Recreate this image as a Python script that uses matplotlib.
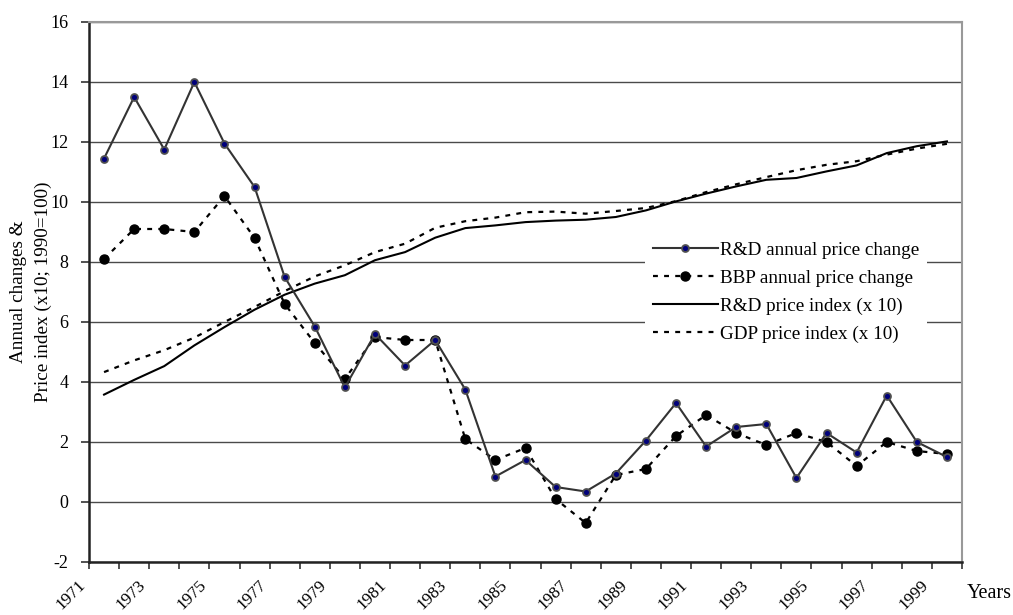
import numpy as np
import matplotlib.pyplot as plt
from matplotlib.transforms import ScaledTranslation

plt.rcParams['font.family'] = ['Liberation Serif', 'DejaVu Serif']

years = list(range(1971, 2000))

# annual price changes (%)
rd_change = [11.45, 13.5, 11.75, 14.0, 11.95, 10.5, 7.5, 5.85, 3.82, 5.6,
             4.55, 5.4, 3.75, 0.85, 1.4, 0.5, 0.35, 0.95, 2.05, 3.3,
             1.85, 2.5, 2.6, 0.8, 2.3, 1.65, 3.55, 2.0, 1.5]
bbp_change = [8.1, 9.1, 9.1, 9.0, 10.2, 8.8, 6.6, 5.3, 4.1, 5.5,
              5.4, 5.4, 2.1, 1.4, 1.8, 0.1, -0.7, 0.9, 1.1, 2.2,
              2.9, 2.3, 1.9, 2.3, 2.0, 1.2, 2.0, 1.7, 1.6]

# price indices (x 10; 1990=100)
rd_index = [3.58, 4.07, 4.53, 5.22, 5.83, 6.41, 6.91, 7.28, 7.56, 8.06,
            8.33, 8.81, 9.13, 9.22, 9.33, 9.38, 9.41, 9.5, 9.72, 10.02,
            10.28, 10.52, 10.74, 10.8, 11.02, 11.22, 11.63, 11.86, 12.02]
gdp_index = [4.33, 4.72, 5.06, 5.48, 6.0, 6.5, 7.03, 7.52, 7.89, 8.33,
             8.61, 9.14, 9.36, 9.48, 9.66, 9.68, 9.61, 9.7, 9.8, 10.03,
             10.33, 10.59, 10.83, 11.06, 11.24, 11.36, 11.58, 11.78, 11.94]

x = np.arange(len(years)) + 0.5

fig = plt.figure(figsize=(10.13, 6.15), dpi=100)
ax = fig.add_axes([89/1013, 1 - 562/615, 873/1013, 540/615])

ax.plot(x, rd_change, color='#333333', lw=1.5, marker='o', ms=5,
        mfc='#00007a', mec='#505050', mew=1.3, label='R&D annual price change', zorder=4)
ax.plot(x, bbp_change, color='black', lw=1.6, ls=(0, (2.2, 2.8)), marker='o', ms=6.5,
        mfc='black', mec='black', label='BBP annual price change', zorder=3)
ax.plot(x, rd_index, color='black', lw=1.5, label='R&D price index (x 10)', zorder=3)
ax.plot(x, gdp_index, color='black', lw=1.6, ls=(0, (2.2, 2.8)),
        label='GDP price index (x 10)', zorder=3)

ax.set_xlim(0, len(years))
ax.set_ylim(-2, 16)
ax.set_yticks(np.arange(-2, 17, 2))
ax.set_yticklabels([str(v) for v in range(-2, 17, 2)], fontsize=13)
ax.yaxis.grid(True, color='#4a4a4a', lw=1)
ax.set_axisbelow(True)

ax.set_xticks(np.arange(len(years) + 1))
labels = [str(years[i]) if (i < len(years) and i % 2 == 0) else '' for i in range(len(years) + 1)]
ax.set_xticklabels(labels, rotation=45, ha='right', va='top', fontsize=12.5)
off = ScaledTranslation(4/100, 0, fig.dpi_scale_trans)
for lab in ax.get_xticklabels():
    lab.set_transform(lab.get_transform() + off)

ax.tick_params(axis='x', length=5, width=1.2, pad=6, color='#333333')
ax.tick_params(axis='y', length=6, width=1.2, pad=9, color='#333333')

for s in ['left', 'bottom']:
    ax.spines[s].set_color('#222222')
    ax.spines[s].set_linewidth(1.8)
for s in ['top', 'right']:
    ax.spines[s].set_color('#999999')
    ax.spines[s].set_linewidth(1.5)

leg = ax.legend(loc='upper left', bbox_to_anchor=(0.637, 0.608), fontsize=13.8,
                frameon=True, fancybox=False, edgecolor='none', facecolor='white',
                framealpha=1, handlelength=3.4, handletextpad=0.12,
                labelspacing=0.55, borderpad=0.4, borderaxespad=0)
leg.set_zorder(5)

fig.text(31/1013, 1 - 292/615, 'Annual changes &\nPrice index (x10; 1990=100)',
         rotation=90, ha='center', va='center', fontsize=13.8, linespacing=1.6,
         multialignment='center')
fig.text(967/1013, 1 - 593/615, 'Years', ha='left', va='center', fontsize=14.5)

fig.savefig('out.png', dpi=100)
